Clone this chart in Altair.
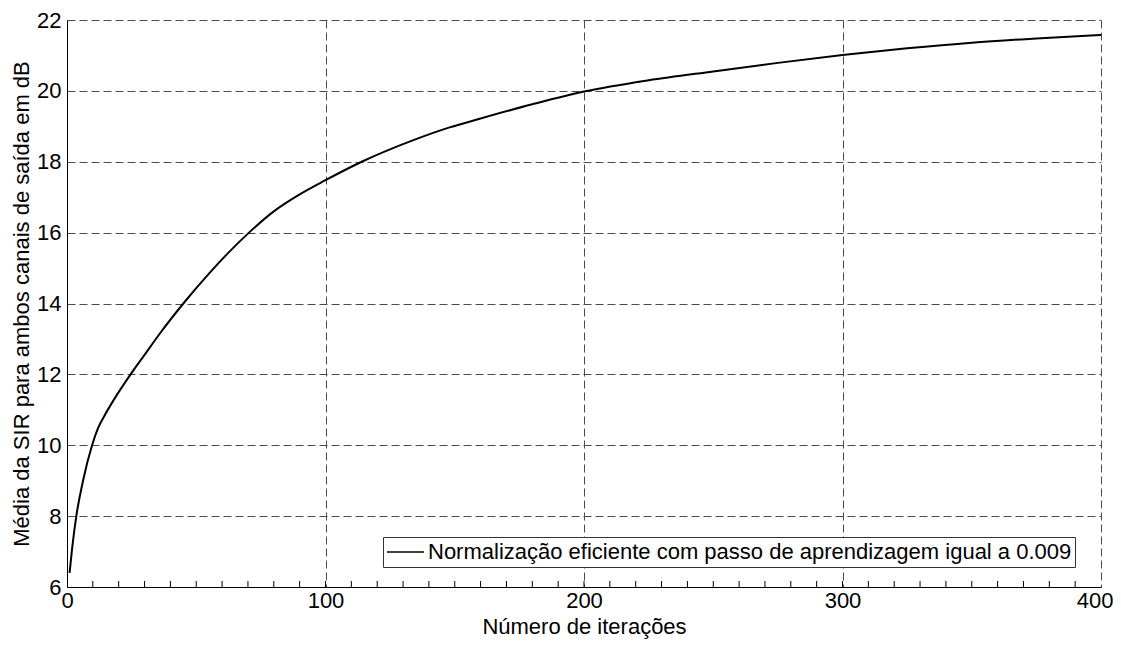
import altair as alt
import pandas as pd

iterations = [1, 2, 3.6, 6.2, 9.7, 12, 15, 18, 24.6, 30, 36, 45, 55, 62, 70.4, 80, 90, 100,
              114, 134, 148, 160, 180, 200, 225, 250, 275, 300, 325, 350, 375, 400]
sir_db = [6.4, 7.1, 8.0, 9.0, 10.0, 10.48, 10.9, 11.27, 12.0, 12.55, 13.16, 14.0, 14.85, 15.4,
          16.0, 16.6, 17.08, 17.48, 18.0, 18.61, 18.97, 19.22, 19.62, 19.98, 20.3, 20.55, 20.79,
          21.01, 21.2, 21.36, 21.48, 21.58]
series_name = "Normalização eficiente com passo de aprendizagem igual a 0.009"
x_ticks = [0, 100, 200, 300, 400]
y_ticks = [6, 8, 10, 12, 14, 16, 18, 20, 22]
minor_ticks = list(range(10, 400, 10))

FONT = "Liberation Sans"

df = pd.DataFrame({"iter": iterations, "sir": sir_db, "serie": series_name})
df_minor = pd.DataFrame({"m": minor_ticks})

x_scale = alt.Scale(domain=[0, 400], nice=False, zero=False)
y_scale = alt.Scale(domain=[6, 22], nice=False, zero=False)

line = alt.Chart(df).mark_line(strokeWidth=2, interpolate="monotone").encode(
    x=alt.X("iter:Q", scale=x_scale,
            axis=alt.Axis(values=x_ticks, title="Número de iterações", grid=True,
                          gridDash=[8, 4], gridColor="#4a4a4a", gridOpacity=1,
                          ticks=False, labelPadding=3, titlePadding=5,
                          domainColor="black", labelFlush=False,
                          labelAlign={"condition": {"test": "datum.value == 400", "value": "right"},
                                      "value": "center"},
                          labelOffset={"condition": {"test": "datum.value == 400", "value": 12},
                                       "value": 0})),
    y=alt.Y("sir:Q", scale=y_scale,
            axis=alt.Axis(values=y_ticks, title="Média da SIR para ambos canais de saída em dB",
                          grid=True, gridDash=[8, 4], gridColor="#4a4a4a", gridOpacity=1,
                          ticks=False, labelPadding=6, titlePadding=3,
                          domainColor="black", labelFlush=False)),
    color=alt.Color("serie:N", scale=alt.Scale(domain=[series_name], range=["black"]),
                    legend=alt.Legend(title=None, orient="none", legendX=316, legendY=517,
                                      fillColor="white", strokeColor="#333333",
                                      padding=3, symbolType="stroke", symbolSize=1369,
                                      symbolStrokeWidth=1.5, labelFontSize=22, clipHeight=24,
                                      labelLimit=1000, labelFont=FONT, labelColor="black",
                                      labelOffset=3)),
)

minor = alt.Chart(df_minor).mark_rule(color="black", strokeWidth=1).encode(
    x=alt.X("m:Q", scale=x_scale),
    y=alt.value(567),
    y2=alt.value(561),
)

chart = alt.layer(minor, line).properties(
    width=1034, height=567,
    autosize=alt.AutoSizeParams(type="none"),
    padding={"left": 59, "top": 12, "right": 12, "bottom": 52},
    background="white",
).configure_view(strokeWidth=0).configure_axis(
    labelFont=FONT, titleFont=FONT, labelFontSize=22, titleFontSize=22,
    labelColor="black", titleColor="black", titleFontWeight="normal",
)

chart.save("out.html", embed_options={"renderer": "svg", "actions": False})
